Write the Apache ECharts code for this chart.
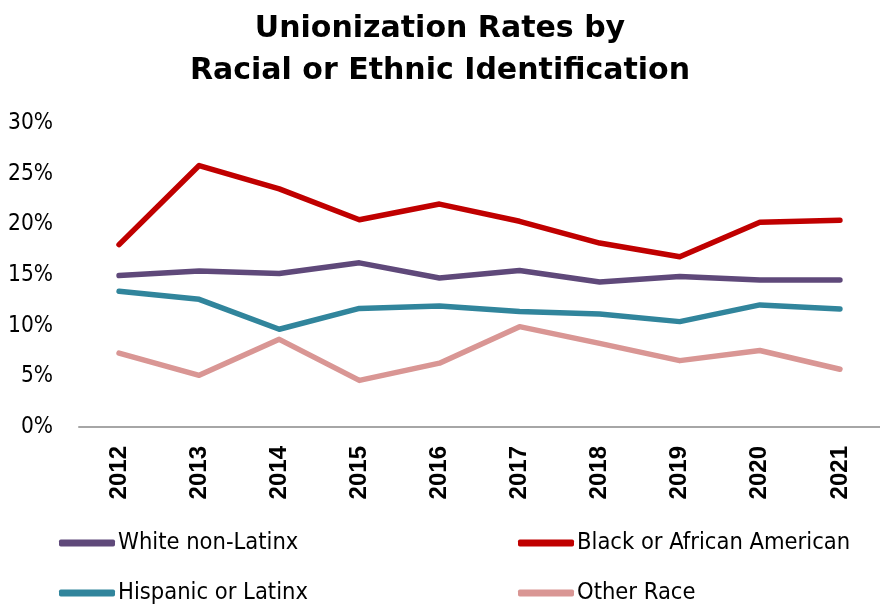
<!DOCTYPE html>
<html>
<head>
<meta charset="utf-8">
<script src="https://cdn.jsdelivr.net/npm/echarts@6/dist/echarts.min.js"></script>
<style>
  html, body { margin: 0; padding: 0; background: #fff; }
  #chart { width: 880px; height: 605px; }
</style>
</head>
<body>
<div id="chart"></div>
<script>
  var years = ['2012', '2013', '2014', '2015', '2016', '2017', '2018', '2019', '2020', '2021'];
  var white = [14.95, 15.4, 15.15, 16.2, 14.7, 15.45, 14.3, 14.85, 14.5, 14.5];
  var black = [18.0, 25.8, 23.5, 20.45, 22.0, 20.3, 18.15, 16.8, 20.2, 20.4];
  var hispanic = [13.4, 12.6, 9.65, 11.7, 11.95, 11.4, 11.15, 10.4, 12.05, 11.65];
  var other = [7.3, 5.1, 8.65, 4.6, 6.3, 9.9, 8.25, 6.55, 7.55, 5.7];

  var narrow = '"DejaVu Sans Condensed", sans-serif';

  var myChart = echarts.init(document.getElementById('chart'));

  function line(name, data, color) {
    return {
      name: name,
      type: 'line',
      data: data,
      showSymbol: false,
      symbol: 'none',
      lineStyle: { color: color, width: 5.5, cap: 'round', join: 'round' },
      itemStyle: { color: color }
    };
  }

  // one legend per entry so the 2x2 layout is fixed
  function legendAt(name, left, top) {
    return {
      left: left,
      top: top,
      itemWidth: 56,
      itemHeight: 7,
      itemGap: 0,
      icon: 'roundRect',
      data: [name],
      textStyle: { fontFamily: narrow, fontSize: 23.5, color: '#000', padding: [0, 0, 0, -2] }
    };
  }

  var option = {
    animation: false,
    title: {
      text: 'Unionization Rates by\nRacial or Ethnic Identification',
      left: 'center',
      top: 3,
      textStyle: {
        fontFamily: '"DejaVu Sans", sans-serif',
        fontWeight: 'bold',
        fontSize: 30,
        lineHeight: 42,
        color: '#000'
      }
    },
    legend: [
      legendAt('White non-Latinx', 54, 526),
      legendAt('Hispanic or Latinx', 54, 576),
      legendAt('Black or African American', 513, 526),
      legendAt('Other Race', 513, 576)
    ],
    grid: {
      left: 79,
      right: -9,
      top: 123,
      height: 304,
      containLabel: false
    },
    xAxis: {
      type: 'category',
      data: years,
      boundaryGap: true,
      axisLine: { lineStyle: { color: '#a6a6a6', width: 2 } },
      axisTick: { show: false },
      axisLabel: {
        rotate: 90,
        margin: 19,
        color: '#000',
        fontFamily: '"Liberation Sans", Arial, sans-serif',
        fontWeight: 'bold',
        fontSize: 24
      }
    },
    yAxis: {
      type: 'value',
      min: 0,
      max: 30,
      interval: 5,
      axisLine: { show: false },
      axisTick: { show: false },
      splitLine: { show: false },
      axisLabel: {
        formatter: '{value}%',
        margin: 26,
        color: '#000',
        fontFamily: narrow,
        fontSize: 22.5
      }
    },
    series: [
      line('White non-Latinx', white, '#5f497a'),
      line('Black or African American', black, '#c00000'),
      line('Hispanic or Latinx', hispanic, '#31859c'),
      line('Other Race', other, '#d99694')
    ]
  };

  myChart.setOption(option);
  window.addEventListener('resize', function () { myChart.resize(); });
</script>
</body>
</html>
